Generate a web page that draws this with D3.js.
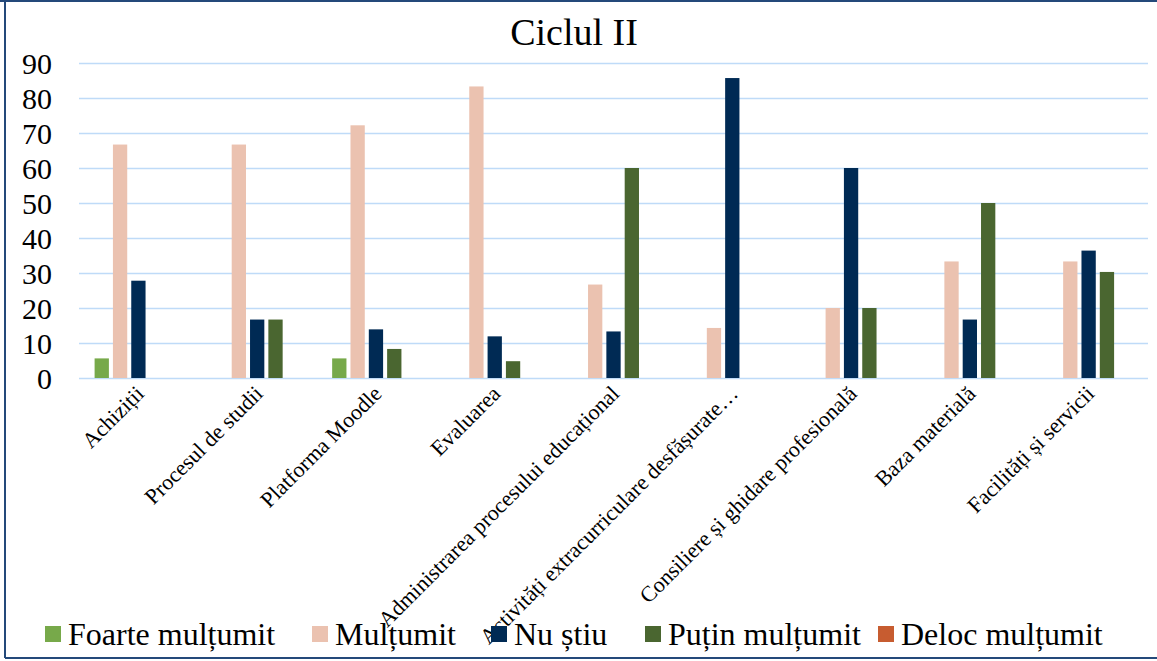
<!DOCTYPE html>
<html>
<head>
<meta charset="utf-8">
<script src="https://cdn.jsdelivr.net/npm/d3@7"></script>
<style>
  body { margin: 0; background: #fff; }
  svg { display: block; }
</style>
</head>
<body>
<svg id="chart" width="1157" height="661"></svg>
<script>
// Satisfaction survey results, cycle II (percent of respondents)
const categories = [
  "Achiziții",
  "Procesul de studii",
  "Platforma Moodle",
  "Evaluarea",
  "Administrarea procesului educațional",
  "Activități extracurriculare desfășurate…",
  "Consiliere și ghidare profesională",
  "Baza materială",
  "Facilități și servicii"
];
const seriesNames = ["Foarte mulțumit", "Mulțumit", "Nu știu", "Puțin mulțumit", "Deloc mulțumit"];
const foarteMultumit = [5.6, 0, 5.6, 0, 0, 0, 0, 0, 0];
const multumit       = [66.7, 66.7, 72.2, 83.3, 26.7, 14.3, 20, 33.3, 33.3];
const nuStiu         = [27.8, 16.7, 13.9, 11.9, 13.3, 85.7, 60, 16.7, 36.4];
const putinMultumit  = [0, 16.7, 8.3, 4.8, 60, 0, 20, 50, 30.3];
const delocMultumit  = [0, 0, 0, 0, 0, 0, 0, 0, 0];
const yTicks = [0, 10, 20, 30, 40, 50, 60, 70, 80, 90];
const seriesColors = ["#77a94a", "#ebc2b0", "#002a54", "#4a6630", "#c75c30"];
const titleText = "Ciclul II";

const seriesValues = [foarteMultumit, multumit, nuStiu, putinMultumit, delocMultumit];
const serif = '"Liberation Serif", "Times New Roman", serif';

const svg = d3.select("#chart");
const plot = { left: 79, right: 1148, top: 63, bottom: 378 };

const y = d3.scaleLinear().domain([0, 90]).range([plot.bottom, plot.top]);
const x0 = d3.scaleBand().domain(categories).range([plot.left, plot.right]);
const x1 = d3.scaleBand().domain(seriesNames).range([15.6, 103.2]).paddingInner(0.22);
const color = d3.scaleOrdinal().domain(seriesNames).range(seriesColors);

// Frame
const frame = svg.append("g").attr("stroke", "#24497a").attr("stroke-width", 2).attr("fill", "none");
frame.append("line").attr("x1", 5).attr("x2", 5).attr("y1", 0).attr("y2", 658);
frame.append("line").attr("x1", 0).attr("x2", 1157).attr("y1", 1).attr("y2", 1);
frame.append("line").attr("x1", 5).attr("x2", 1157).attr("y1", 658).attr("y2", 658);

// Title
svg.append("text")
  .attr("x", 574).attr("y", 45)
  .attr("text-anchor", "middle")
  .style("font-family", serif)
  .style("font-size", "38px")
  .attr("fill", "#000")
  .text(titleText);

// Horizontal gridlines
svg.append("g")
  .attr("transform", `translate(${plot.left},0)`)
  .call(d3.axisLeft(y).tickValues(yTicks).tickSize(-(plot.right - plot.left)).tickFormat(""))
  .call(g => g.select(".domain").remove())
  .call(g => g.selectAll(".tick line").attr("stroke", "#bfdbf8").attr("stroke-width", 1.7));

// Y-axis labels
svg.append("g")
  .attr("transform", `translate(${plot.left},0)`)
  .attr("font-family", serif)
  .call(d3.axisLeft(y).tickValues(yTicks).tickSize(0).tickPadding(27))
  .attr("font-family", serif)
  .call(g => g.select(".domain").remove())
  .call(g => g.selectAll(".tick text")
    .style("font-family", serif)
    .style("font-size", "30px")
    .attr("fill", "#000")
    .attr("dy", "0.34em"));

// Bars
const groups = svg.append("g")
  .selectAll("g")
  .data(categories)
  .join("g")
  .attr("transform", d => `translate(${x0(d)},0)`);

groups.selectAll("rect")
  .data((d, i) => seriesNames.map((s, k) => ({ series: s, value: seriesValues[k][i] })))
  .join("rect")
  .attr("x", d => x1(d.series))
  .attr("width", x1.bandwidth())
  .attr("y", d => y(d.value))
  .attr("height", d => y(0) - y(d.value))
  .attr("fill", d => color(d.series));

// Category labels, rotated
svg.append("g")
  .attr("transform", `translate(0,${plot.bottom})`)
  .call(d3.axisBottom(x0).tickSize(0))
  .attr("font-family", serif)
  .call(g => g.select(".domain").remove())
  .call(g => g.selectAll(".tick text")
    .style("font-family", serif)
    .style("font-size", "22px")
    .attr("fill", "#000")
    .attr("text-anchor", "end")
    .attr("x", 0).attr("y", 0).attr("dy", 0)
    .attr("transform", "translate(7,17) rotate(-45)"));

// Legend
const legendX = [45, 312, 491, 645, 878];
const legend = svg.append("g")
  .selectAll("g")
  .data(seriesNames)
  .join("g")
  .attr("transform", (d, i) => `translate(${legendX[i]},0)`);
legend.append("rect")
  .attr("x", 0).attr("y", 626)
  .attr("width", 16).attr("height", 16)
  .attr("fill", d => color(d));
legend.append("text")
  .attr("x", 23).attr("y", 645)
  .style("font-family", serif)
  .style("font-size", "32px")
  .attr("fill", "#000")
  .text(d => d);
</script>
</body>
</html>
